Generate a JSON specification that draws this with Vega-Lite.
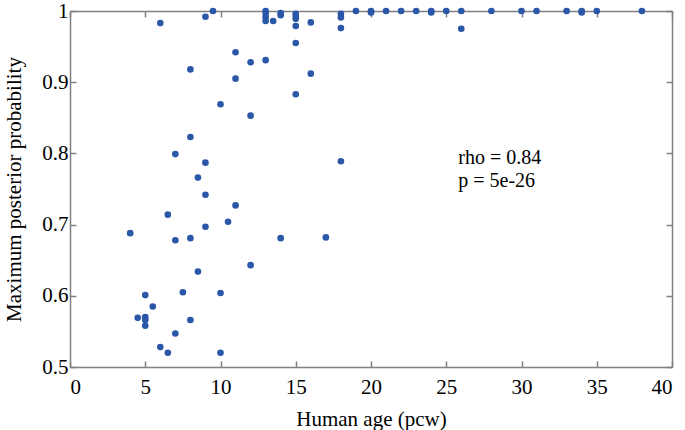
{
  "$schema": "https://vega.github.io/schema/vega-lite/v6.json",
  "width": 602,
  "height": 356,
  "autosize": {"type": "none"},
  "padding": {"left": 70, "top": 11, "right": 13, "bottom": 63},
  "background": "white",
  "config": {
    "view": {"stroke": null},
    "axis": {
      "grid": false,
      "domainColor": "#808080",
      "domainWidth": 1.5,
      "tickColor": "#808080",
      "tickWidth": 1.5,
      "tickSize": -6,
      "labelFont": "Liberation Serif",
      "labelFontSize": 21,
      "labelColor": "black",
      "titleFont": "Liberation Serif",
      "titleFontSize": 21,
      "titleFontWeight": "normal",
      "titleColor": "black"
    }
  },
  "resolve": {"axis": {"x": "independent", "y": "independent"}},
  "layer": [
    {
      "data": {
        "values": [
          {"age": 4, "prob": 0.688}, {"age": 4.5, "prob": 0.569}, {"age": 5, "prob": 0.601},
          {"age": 5, "prob": 0.570}, {"age": 5, "prob": 0.566}, {"age": 5, "prob": 0.558},
          {"age": 5.5, "prob": 0.585}, {"age": 6, "prob": 0.983}, {"age": 6, "prob": 0.528},
          {"age": 6.5, "prob": 0.714}, {"age": 6.5, "prob": 0.520}, {"age": 7, "prob": 0.799},
          {"age": 7, "prob": 0.678}, {"age": 7, "prob": 0.547}, {"age": 7.5, "prob": 0.605},
          {"age": 8, "prob": 0.918}, {"age": 8, "prob": 0.823}, {"age": 8, "prob": 0.681},
          {"age": 8, "prob": 0.566}, {"age": 8.5, "prob": 0.766}, {"age": 8.5, "prob": 0.634},
          {"age": 9, "prob": 0.992}, {"age": 9, "prob": 0.787}, {"age": 9, "prob": 0.742},
          {"age": 9, "prob": 0.697}, {"age": 9.5, "prob": 1.0}, {"age": 10, "prob": 0.869},
          {"age": 10, "prob": 0.604}, {"age": 10, "prob": 0.520}, {"age": 10.5, "prob": 0.704},
          {"age": 11, "prob": 0.942}, {"age": 11, "prob": 0.905}, {"age": 11, "prob": 0.727},
          {"age": 12, "prob": 0.928}, {"age": 12, "prob": 0.853}, {"age": 12, "prob": 0.643},
          {"age": 13, "prob": 1.0}, {"age": 13, "prob": 0.996}, {"age": 13, "prob": 0.991},
          {"age": 13, "prob": 0.986}, {"age": 13, "prob": 0.931}, {"age": 13.5, "prob": 0.986},
          {"age": 14, "prob": 0.997}, {"age": 14, "prob": 0.994}, {"age": 14, "prob": 0.681},
          {"age": 15, "prob": 0.996}, {"age": 15, "prob": 0.993}, {"age": 15, "prob": 0.989},
          {"age": 15, "prob": 0.979}, {"age": 15, "prob": 0.955}, {"age": 15, "prob": 0.883},
          {"age": 16, "prob": 0.984}, {"age": 16, "prob": 0.912}, {"age": 17, "prob": 0.682},
          {"age": 18, "prob": 0.996}, {"age": 18, "prob": 0.991}, {"age": 18, "prob": 0.976},
          {"age": 18, "prob": 0.789}, {"age": 19, "prob": 1.0}, {"age": 20, "prob": 1.0},
          {"age": 20, "prob": 0.998}, {"age": 21, "prob": 1.0}, {"age": 22, "prob": 1.0},
          {"age": 23, "prob": 1.0}, {"age": 24, "prob": 1.0}, {"age": 24, "prob": 0.998},
          {"age": 25, "prob": 1.0}, {"age": 26, "prob": 1.0}, {"age": 26, "prob": 0.975},
          {"age": 28, "prob": 1.0}, {"age": 30, "prob": 1.0}, {"age": 31, "prob": 1.0},
          {"age": 33, "prob": 1.0}, {"age": 34, "prob": 1.0}, {"age": 34, "prob": 0.998},
          {"age": 35, "prob": 1.0}, {"age": 38, "prob": 1.0}
        ]
      },
      "mark": {"type": "circle", "size": 44, "color": "#2a57a8", "opacity": 1},
      "encoding": {
        "x": {
          "field": "age", "type": "quantitative",
          "scale": {"domain": [0, 40], "nice": false, "zero": false},
          "axis": {"orient": "bottom", "values": [0, 5, 10, 15, 20, 25, 30, 35, 40], "title": "Human age (pcw)", "labelPadding": 15, "titlePadding": 11}
        },
        "y": {
          "field": "prob", "type": "quantitative",
          "scale": {"domain": [0.5, 1], "nice": false, "zero": false},
          "axis": {"orient": "left", "values": [0.5, 0.6, 0.7, 0.8, 0.9, 1], "labelExpr": "datum.value == 1 ? '1' : format(datum.value, '.1f')", "title": "Maximum posterior probability", "labelPadding": 8, "titlePadding": 17}
        }
      }
    },
    {
      "data": {
        "values": [
          {"age": 25.8, "prob": 0.7845, "label": "rho = 0.84"},
          {"age": 25.8, "prob": 0.7535, "label": "p = 5e-26"}
        ]
      },
      "mark": {"type": "text", "align": "left", "baseline": "alphabetic", "font": "Liberation Serif", "fontSize": 20, "color": "black"},
      "encoding": {
        "x": {
          "field": "age", "type": "quantitative",
          "scale": {"domain": [0, 40], "nice": false, "zero": false},
          "axis": {"orient": "top", "values": [0, 5, 10, 15, 20, 25, 30, 35, 40], "labels": false, "title": null}
        },
        "y": {
          "field": "prob", "type": "quantitative",
          "scale": {"domain": [0.5, 1], "nice": false, "zero": false},
          "axis": {"orient": "right", "values": [0.5, 0.6, 0.7, 0.8, 0.9, 1], "labels": false, "title": null}
        },
        "text": {"field": "label"}
      }
    }
  ]
}
